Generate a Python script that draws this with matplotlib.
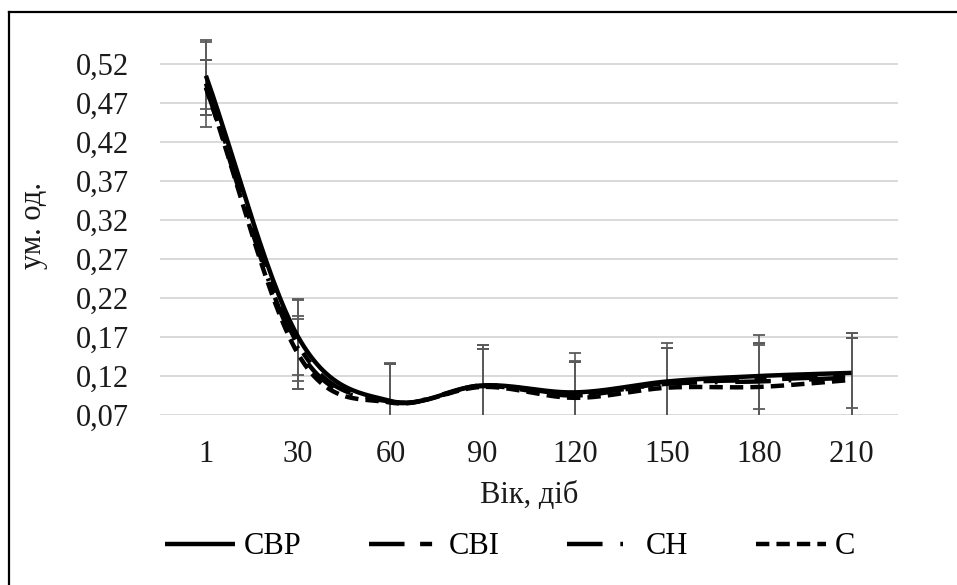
import numpy as np
import matplotlib
matplotlib.use("Agg")
import matplotlib.pyplot as plt
from matplotlib.lines import Line2D

plt.rcParams['font.family'] = ['Liberation Serif', 'DejaVu Serif']

# Вік, діб
vik = ['1', '30', '60', '90', '120', '150', '180', '210']

# значення, ум. од.
cbp = [0.505, 0.170, 0.088, 0.108, 0.099, 0.113, 0.120, 0.124]
cbi = [0.495, 0.160, 0.087, 0.107, 0.095, 0.111, 0.115, 0.120]
ch = [0.490, 0.155, 0.087, 0.108, 0.097, 0.110, 0.113, 0.118]
c = [0.490, 0.148, 0.086, 0.106, 0.092, 0.105, 0.106, 0.115]

# похибки
err_cbp = [0.043, 0.049, 0.049, 0.052, 0.050, 0.049, 0.042, 0.045]
err_cbi = [0.056, 0.057, 0.049, 0.048, 0.043, 0.045, 0.058, 0.055]
err_ch = [0.035, 0.042, 0.048, 0.047, 0.042, 0.046, 0.047, 0.051]
err_c = [0.035, 0.045, 0.050, 0.054, 0.046, 0.051, 0.056, 0.060]

yticks = [0.07, 0.12, 0.17, 0.22, 0.27, 0.32, 0.37, 0.42, 0.47, 0.52]
names = ['СВР', 'СВІ', 'СН', 'С']


def smooth(y, n=30):
    # згладжена лінія як в Excel (Catmull-Rom)
    y = np.asarray(y, dtype=float)
    x = np.arange(len(y), dtype=float)
    px = np.concatenate([[2 * x[0] - x[1]], x, [2 * x[-1] - x[-2]]])
    py = np.concatenate([[2 * y[0] - y[1]], y, [2 * y[-1] - y[-2]]])
    xs, ys = [], []
    t = np.linspace(0, 1, n)
    for i in range(1, len(px) - 2):
        for arr, out in ((px, xs), (py, ys)):
            p0, p1, p2, p3 = arr[i - 1], arr[i], arr[i + 1], arr[i + 2]
            out.extend(0.5 * (2 * p1 + (-p0 + p2) * t + (2 * p0 - 5 * p1 + 4 * p2 - p3) * t ** 2
                              + (-p0 + 3 * p1 - 3 * p2 + p3) * t ** 3))
    return np.array(xs), np.array(ys)


fig = plt.figure(figsize=(9.57, 5.85), dpi=100)
ax = fig.add_axes([0.167, 0.2906, 0.771, 0.6467])

x = np.arange(len(vik))
series = [cbp, cbi, ch, c]
errs = [err_cbp, err_cbi, err_ch, err_c]
styles = ['-', (0, (8, 3.5, 2.7, 3.5)), (0, (8, 4, 0.6, 4)), (0, (3, 1.6))]
LW = 3.2

for vals, er in zip(series, errs):
    ax.errorbar(x, vals, yerr=er, fmt='none', ecolor='#5a5a5a', elinewidth=1.2,
                capsize=4.3, capthick=1.3, zorder=2)

handles = []
for vals, st, name in zip(series, styles, names):
    sx, sy = smooth(vals)
    ax.plot(sx, sy, color='black', lw=LW, linestyle=st, dash_capstyle='butt',
            solid_capstyle='butt', zorder=3)
    handles.append(Line2D([], [], color='black', lw=LW, linestyle=st,
                          dash_capstyle='butt', solid_capstyle='butt', label=name))

ax.set_xlim(-0.5, len(vik) - 0.5)
ax.set_ylim(0.07, 0.555)
ax.set_xticks(x)
ax.set_xticklabels(vik)
ax.set_yticks(yticks)
ax.set_yticklabels([f'{v:.2f}'.replace('.', ',') for v in yticks])
ax.tick_params(axis='both', length=0, labelsize=22, colors='#1a1a1a')
ax.tick_params(axis='y', pad=22)
ax.tick_params(axis='x', pad=18)
ax.grid(axis='y', color='#d9d9d9', lw=1.4)
ax.set_axisbelow(True)
for s in ax.spines.values():
    s.set_visible(False)

ax.set_xlabel('Вік, діб', fontsize=22, labelpad=9, color='#1a1a1a')
ax.set_ylabel('ум. од.', fontsize=22, labelpad=20, color='#1a1a1a')

fig.legend(handles=handles, loc='center', bbox_to_anchor=(0.533, 0.065), ncol=4,
           frameon=False, fontsize=22, handlelength=2.3, handletextpad=0.3,
           columnspacing=2.2, borderpad=0)

# рамка
fig.add_artist(Line2D([0.009, 0.009], [0, 0.979], color='black', lw=1.6, transform=fig.transFigure))
fig.add_artist(Line2D([0.009, 1], [0.979, 0.979], color='black', lw=1.6, transform=fig.transFigure))

fig.savefig('out.png', dpi=100)
